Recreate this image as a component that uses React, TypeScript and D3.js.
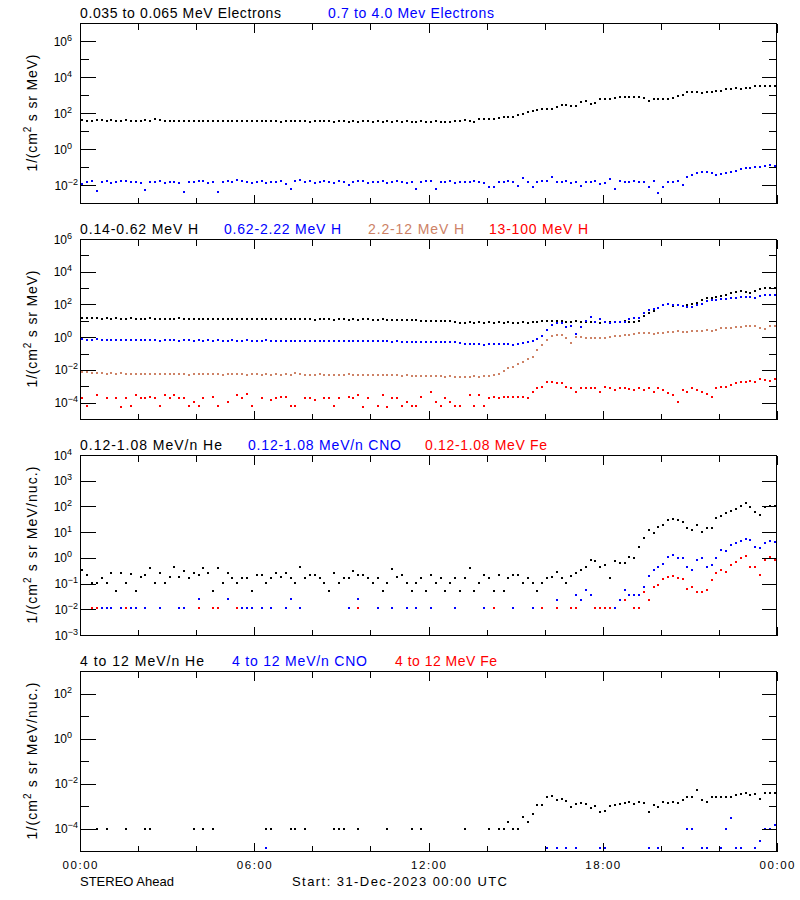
import React from 'react';
import * as d3 from 'd3';

const _ = null;

// ---------- axis / label data ----------
const xTickHours = [0, 2, 4, 6, 8, 10, 12, 14, 16, 18, 20, 22, 24];
const xLabelHours = [0, 6, 12, 18, 24];
const xLabels = ['00:00', '06:00', '12:00', '18:00', '00:00'];
const footLeft = 'STEREO Ahead';
const footMid = 'Start: 31-Dec-2023 00:00 UTC';

const COL_BLACK = '#000000';
const COL_BLUE = '#0000ff';
const COL_BROWN = '#cd8266';
const COL_RED = '#ff0000';

// ---------- series values (log10 of flux), 10-min samples over 24 h ----------
// Panel 1: electrons
const eLow = [
  1.60,1.58,1.57,1.59,1.62,1.58,1.60,1.57,1.56,1.59,1.56,1.58,
  1.57,1.60,1.56,1.66,1.60,1.58,1.57,1.56,1.58,1.55,1.57,1.56,
  1.54,1.57,1.55,1.56,1.58,1.55,1.53,1.56,1.55,1.57,1.54,1.55,
  1.56,1.53,1.55,1.57,1.55,1.52,1.54,1.56,1.53,1.55,1.54,1.52,
  1.55,1.53,1.54,1.56,1.52,1.53,1.55,1.51,1.54,1.52,1.53,1.55,
  1.52,1.54,1.50,1.53,1.52,1.54,1.51,1.53,1.52,1.50,1.53,1.52,
  1.51,1.53,1.52,1.51,1.52,1.53,1.55,1.60,1.55,1.50,1.66,1.67,
  1.66,1.68,1.72,1.78,1.79,1.80,1.90,1.93,2.05,2.10,2.18,2.23,
  2.22,2.20,2.35,2.42,2.42,2.38,2.38,2.62,2.66,2.52,2.54,2.76,
  2.79,2.80,2.86,2.88,2.88,2.89,2.87,2.88,2.82,2.66,2.78,2.80,
  2.80,2.79,2.82,2.95,2.98,3.14,3.16,3.17,3.13,3.18,3.19,3.20,
  3.24,3.34,3.36,3.38,3.35,3.37,3.40,3.48,3.50,3.49,3.50,3.51,
];
const eHigh = [
  -1.95,-1.85,-1.80,-2.35,-1.82,-1.80,-1.88,-1.85,-1.80,-1.78,-1.85,-1.82,
  -1.88,-2.25,-1.85,-1.82,-1.80,-1.90,-1.85,-1.83,-1.88,-2.40,-1.82,-1.85,
  -1.80,-1.78,-1.88,-1.85,-2.40,-1.82,-1.80,-1.85,-1.72,-1.80,-1.85,-1.90,
  -1.82,-1.80,-1.88,-1.85,-1.82,-1.80,-1.92,-2.20,-1.78,-1.72,-1.85,-1.80,
  -1.88,-1.82,-1.75,-1.85,-1.88,-1.80,-1.82,-2.00,-1.85,-1.80,-1.78,-1.88,
  -1.85,-1.82,-1.80,-1.90,-1.85,-1.78,-1.82,-1.88,-1.85,-2.20,-1.82,-1.80,
  -1.78,-2.20,-1.85,-1.82,-1.80,-1.88,-1.85,-1.82,-1.85,-1.80,-1.82,-1.90,
  -2.10,-2.10,-1.85,-1.82,-1.80,-1.85,-2.05,-1.62,-1.85,-2.10,-1.82,-1.80,
  -1.78,-1.55,-1.85,-1.82,-1.80,-1.88,-1.85,-2.05,-1.82,-1.85,-1.80,-1.95,
  -1.88,-1.65,-2.20,-1.80,-1.82,-1.85,-1.80,-1.85,-1.82,-2.10,-1.80,-2.45,
  -2.10,-1.82,-1.85,-1.80,-2.00,-1.58,-1.45,-1.35,-1.30,-1.30,-1.32,-1.45,
  -1.40,-1.35,-1.30,-1.20,-1.10,-1.05,-1.08,-1.02,-1.00,-0.92,-0.90,-0.95,
];

// Panel 2: protons
const h1 = [
  1.20,1.18,1.15,1.17,1.14,1.16,1.13,1.15,1.14,1.12,1.15,1.13,
  1.14,1.12,1.15,1.13,1.11,1.14,1.12,1.13,1.15,1.12,1.11,1.13,
  1.12,1.14,1.10,1.12,1.13,1.11,1.12,1.10,1.13,1.11,1.12,1.10,
  1.11,1.13,1.10,1.12,1.09,1.11,1.10,1.12,1.10,1.09,1.11,1.10,
  1.08,1.10,1.09,1.11,1.08,1.10,1.09,1.07,1.10,1.08,1.09,1.10,
  1.08,1.07,1.09,1.08,1.06,1.08,1.07,1.05,1.04,1.02,1.01,1.00,
  1.00,0.99,1.00,0.98,0.97,0.92,0.88,0.89,0.91,0.88,0.90,0.89,
  0.90,0.89,0.91,0.88,0.90,0.89,0.88,0.90,0.89,0.91,0.92,0.96,
  0.98,0.97,0.99,0.96,0.95,0.94,0.96,0.93,0.92,0.90,0.91,0.89,
  0.90,0.92,0.91,0.95,0.96,0.94,0.95,0.97,1.30,1.45,1.62,1.80,
  1.95,2.00,1.92,1.95,1.90,1.98,2.05,2.10,2.30,2.37,2.40,2.45,
  2.50,2.55,2.70,2.75,2.80,2.78,2.72,2.85,2.95,3.00,2.98,3.00,
];
const h2 = [
  -0.13,-0.15,-0.17,-0.14,-0.18,-0.16,-0.19,-0.17,-0.18,-0.20,-0.17,-0.19,
  -0.18,-0.20,-0.17,-0.19,-0.21,-0.18,-0.20,-0.19,-0.21,-0.18,-0.20,-0.22,
  -0.19,-0.21,-0.20,-0.22,-0.19,-0.21,-0.23,-0.20,-0.22,-0.21,-0.19,-0.22,
  -0.21,-0.23,-0.20,-0.22,-0.24,-0.21,-0.23,-0.22,-0.24,-0.21,-0.23,-0.25,
  -0.22,-0.24,-0.23,-0.25,-0.22,-0.24,-0.26,-0.23,-0.25,-0.24,-0.22,-0.25,
  -0.24,-0.26,-0.23,-0.25,-0.27,-0.24,-0.28,-0.30,-0.29,-0.31,-0.28,-0.30,
  -0.29,-0.31,-0.30,-0.28,-0.32,-0.30,-0.38,-0.42,-0.44,-0.41,-0.43,-0.45,
  -0.42,-0.44,-0.41,-0.43,-0.42,-0.45,-0.41,-0.38,-0.30,-0.24,-0.10,0.07,
  0.44,0.74,0.84,0.84,0.64,0.68,0.20,0.60,1.00,1.25,0.95,1.10,
  0.90,0.88,0.90,0.95,0.95,1.10,1.15,1.15,1.50,1.66,1.75,1.78,
  1.95,2.00,1.98,1.95,1.88,1.85,1.82,1.95,2.00,2.20,2.25,2.30,
  2.32,2.35,2.37,2.40,2.45,2.48,2.47,2.40,2.50,2.55,2.58,2.58,
];
const h3 = [
  -2.10,-2.15,-2.18,-2.20,-2.17,-2.22,-2.20,-2.24,-2.21,-2.25,-2.22,-2.26,
  -2.24,-2.27,-2.23,-2.26,-2.28,-2.25,-2.27,-2.24,-2.28,-2.26,-2.29,-2.27,
  -2.25,-2.28,-2.26,-2.22,-2.27,-2.29,-2.26,-2.28,-2.25,-2.27,-2.29,-2.26,
  -2.28,-2.30,-2.27,-2.29,-2.26,-2.31,-2.28,-2.30,-2.18,-2.27,-2.31,-2.29,
  -2.30,-2.28,-2.32,-2.29,-2.31,-2.30,-2.33,-2.28,-2.31,-2.29,-2.32,-2.30,
  -2.31,-2.33,-2.30,-2.32,-2.29,-2.33,-2.36,-2.34,-2.37,-2.35,-2.36,-2.38,
  -2.36,-2.40,-2.38,-2.42,-2.40,-2.44,-2.42,-2.45,-2.43,-2.40,-2.41,-2.38,
  -2.36,-2.33,-2.27,-2.05,-1.90,-1.80,-1.65,-1.50,-1.35,-1.19,-0.78,-0.50,
  -0.17,0.05,0.13,0.13,-0.03,-0.35,0.00,0.00,-0.05,-0.03,-0.02,-0.04,
  -0.03,-0.01,0.05,0.08,0.11,0.15,0.20,0.24,0.25,0.24,0.22,0.26,
  0.24,0.33,0.32,0.35,0.30,0.33,0.35,0.36,0.40,0.42,0.40,0.45,
  0.54,0.56,0.58,0.60,0.65,0.67,0.68,0.66,0.55,0.50,0.68,0.69,
];
const h4 = [
  -3.74,-4.19,_,-3.54,_,-3.74,_,-3.74,-4.25,-3.74,-4.19,-3.54,
  -3.74,-3.74,-3.64,-3.74,-4.19,-3.54,-3.74,-3.54,-3.74,-3.74,-4.19,-3.94,
  -4.19,-3.70,_,-3.64,-4.19,_,-3.94,_,-3.54,-3.74,-3.48,-4.19,
  _,-3.74,_,-3.84,-3.70,-3.64,-3.64,-4.19,-4.19,_,-3.74,-3.74,
  -3.84,_,-3.70,-3.74,-4.19,-3.74,_,-3.64,-3.74,-3.54,-4.25,-3.70,
  _,-4.19,-3.54,-4.25,-3.74,-3.70,-4.19,-3.94,-4.19,-4.19,-3.64,_,
  -3.33,-3.94,-4.19,-3.74,-3.94,-4.19,-4.19,_,-3.54,-4.19,-3.54,-4.19,
  -3.74,-3.64,-3.74,-3.64,-3.64,-3.64,-3.64,-3.64,-3.70,-3.33,-3.13,-3.02,
  -2.72,-2.72,-2.82,-2.82,-3.02,-3.13,-3.33,-3.13,-3.13,-3.13,-3.13,-3.33,
  -3.02,-3.13,-3.23,-3.13,-3.13,-3.18,-3.23,-3.13,-3.23,-3.13,-3.33,-3.13,
  -3.23,-3.43,-3.54,-3.94,-3.23,-3.33,-3.13,-3.23,-3.33,-3.50,-3.64,-3.13,
  -3.02,-3.02,-2.92,-2.82,-2.72,-2.72,-2.68,-2.72,-2.58,-2.62,-2.68,-2.55,
];

// Panel 3: 0.12-1.08 MeV/n ions
const he1 = [
  -0.47,-0.67,-0.99,-0.99,-0.80,-0.99,-0.60,-1.28,-0.60,-0.99,-0.62,-1.28,
  -0.73,-0.67,-0.40,-0.99,-0.60,-0.99,-0.73,-0.34,-0.73,-0.50,-0.80,-0.60,
  -0.67,-0.38,-0.60,-1.28,-0.40,-0.99,-0.60,-0.80,-0.99,-0.80,-0.80,-1.28,
  -0.67,-0.67,-0.99,-0.80,-0.60,-0.73,-0.60,-0.80,-0.99,-0.36,-0.80,-0.67,
  -0.67,-0.80,-0.99,-1.28,-0.60,-0.99,-0.80,-0.80,-0.50,-0.67,-0.67,-0.80,
  -0.99,-0.80,-1.28,-0.99,-0.45,-0.73,-0.67,-0.99,-1.28,-0.99,-0.80,-1.28,
  -0.67,-0.99,-0.80,-1.28,-0.99,-0.80,-1.28,-0.80,-0.41,-1.28,-0.99,-0.67,
  -0.80,-1.28,-0.67,-1.28,-0.80,-0.67,-0.67,-0.99,-0.80,-0.99,-1.28,-0.99,
  -0.80,-0.73,-0.54,-0.80,-0.99,-0.71,-0.60,-0.47,-0.34,-0.08,-0.14,-0.34,
  -0.28,-0.80,-0.14,-0.21,-0.21,0.05,-0.02,0.42,0.77,1.08,0.95,1.21,
  1.28,1.47,1.50,1.47,1.41,1.15,1.08,1.28,1.02,1.15,1.18,1.54,
  1.63,1.73,1.83,1.89,2.01,2.12,1.99,1.79,1.67,1.96,2.01,2.01,
];
const cno1 = [
  _,_,-1.96,_,-1.96,-1.96,-1.96,_,-1.96,-1.96,-1.96,-1.96,
  _,-1.96,_,_,-1.96,_,_,_,-1.96,-1.96,_,_,
  -1.61,_,_,_,_,_,-1.61,_,_,-1.96,-1.96,-1.96,
  _,-1.96,_,-1.96,_,_,-1.96,-1.61,_,-1.96,_,_,
  _,_,_,_,_,_,_,-1.96,_,-1.61,_,_,
  _,-1.96,_,_,-1.96,_,_,-1.96,_,-1.96,_,_,
  -1.96,_,_,_,_,-1.96,_,_,_,_,_,-1.96,
  _,-1.96,_,_,_,-1.96,_,_,_,-1.96,_,_,
  _,_,-1.64,_,_,-1.96,-1.45,-1.64,-1.25,-1.45,-1.96,-1.96,
  -1.96,_,-1.96,-1.64,-1.25,-1.45,-1.45,-1.45,-1.12,-0.69,-0.47,-0.37,
  -0.25,0.05,0.12,-0.02,-0.02,-0.34,-0.47,-0.08,-0.02,-0.34,-0.28,-0.02,
  0.31,0.25,0.51,0.57,0.64,0.73,0.70,0.44,0.38,0.57,0.64,0.61,
];
const fe1 = [
  _,_,-1.96,-1.96,_,_,_,_,_,-1.96,_,_,
  _,_,_,_,_,_,_,_,_,_,_,_,
  -1.96,_,_,-1.96,-1.96,_,_,_,-1.96,_,_,_,
  _,_,_,_,_,_,_,_,_,_,_,_,
  _,_,_,_,_,_,_,_,_,-1.96,_,_,
  _,_,_,_,_,_,_,_,_,_,_,_,
  _,_,_,_,_,_,_,_,_,_,_,_,
  _,-1.96,_,_,_,_,_,_,_,_,_,-1.96,
  _,_,-1.96,_,_,-1.96,-1.96,_,_,_,-1.96,-1.96,
  -1.96,-1.96,_,_,-1.64,_,-1.96,-1.96,-1.32,-1.64,-1.12,-1.05,
  -0.83,-0.73,-0.69,-0.80,-0.83,-1.22,-1.12,-1.32,-1.32,-1.25,-0.86,-0.60,
  -0.47,-0.54,-0.28,-0.15,-0.02,0.07,-0.34,-0.37,-0.67,-0.08,0.05,-0.08,
];

// Panel 4: 4-12 MeV/n ions
const he2 = [
  _,_,_,-4,_,-4,_,_,_,-4,_,_,
  _,-4,-4,_,_,_,_,_,_,_,_,-4,
  _,-4,_,-4,_,_,_,_,_,_,_,_,
  _,_,-4,-4,_,_,_,-4,-4,_,-4,_,
  _,_,_,_,-4,-4,-4,_,_,-4,_,_,
  _,_,_,-4,_,_,_,_,-4,_,-4,_,
  _,_,_,_,_,_,_,-4,_,_,_,_,
  -4,_,-4,-4,-3.7,-4,-4,-3.5,-3.7,-3.35,-2.95,-2.95,
  -2.58,-2.55,-2.75,-2.7,-2.78,-3.05,-2.9,-2.85,-2.9,-3.1,-3.0,-3.25,
  -3.2,-3.0,-2.95,-2.9,-2.85,-2.8,-2.9,-2.8,-2.85,-3.25,-2.95,-3.05,
  -2.8,-2.85,-2.8,-2.85,-2.75,-2.6,-2.6,-2.3,-2.75,-2.8,-2.6,-2.62,
  -2.6,-2.58,-2.62,-2.5,-2.45,-2.4,-2.5,-2.45,-2.67,-2.42,-2.4,-2.4,
];
const cno2 = [
  _,_,_,_,_,_,_,_,_,_,_,_,
  _,_,_,_,_,_,_,_,_,_,_,_,
  _,_,_,_,_,_,_,_,_,_,_,_,
  _,_,-4.88,_,_,_,_,_,_,_,_,_,
  _,_,_,_,_,_,_,_,_,_,_,_,
  _,_,_,_,_,_,_,_,_,_,_,_,
  _,_,_,_,_,_,_,_,_,_,_,_,
  _,_,_,_,_,_,_,_,_,_,_,_,
  -4.88,_,-4.88,_,-4.88,_,-4.88,_,_,_,_,-4.88,
  -4.88,_,_,_,_,_,_,_,_,-4.88,_,-4.88,
  _,_,_,_,-4.88,-4.0,-4.0,_,-4.88,-4.88,_,_,
  -4.88,-4.0,-3.55,-4.88,-4.88,_,_,-4.88,-4.56,-4.0,-4.0,-3.85,
];
const fe2: (number | null)[] = [];

// ---------- panel definitions ----------
type S = { label: string; color: string; values: (number | null)[] };

const panel1Series: S[] = [
  { label: '0.035 to 0.065 MeV Electrons', color: COL_BLACK, values: eLow },
  { label: '0.7 to 4.0 Mev Electrons', color: COL_BLUE, values: eHigh },
];
const panel2Series: S[] = [
  { label: '0.14-0.62 MeV H', color: COL_BLACK, values: h1 },
  { label: '0.62-2.22 MeV H', color: COL_BLUE, values: h2 },
  { label: '2.2-12 MeV H', color: COL_BROWN, values: h3 },
  { label: '13-100 MeV H', color: COL_RED, values: h4 },
];
const panel3Series: S[] = [
  { label: '0.12-1.08 MeV/n He', color: COL_BLACK, values: he1 },
  { label: '0.12-1.08 MeV/n CNO', color: COL_BLUE, values: cno1 },
  { label: '0.12-1.08 MeV Fe', color: COL_RED, values: fe1 },
];
const panel4Series: S[] = [
  { label: '4 to 12 MeV/n He', color: COL_BLACK, values: he2 },
  { label: '4 to 12 MeV/n CNO', color: COL_BLUE, values: cno2 },
  { label: '4 to 12 MeV Fe', color: COL_RED, values: fe2 },
];

const panels = [
  { series: panel1Series, exp: [-3, 7], major: [6, 4, 2, 0, -2], minor: [5, 3, 1, -1], unit: ' s sr MeV)', titleX: [80, 328], titleW: [201, 166], yTitleLen: 117 },
  { series: panel2Series, exp: [-5, 6], major: [6, 4, 2, 0, -2, -4], minor: [5, 3, 1, -1, -3], unit: ' s sr MeV)', titleX: [80, 224, 368, 489], titleW: [118, 117, 96, 99], yTitleLen: 117 },
  { series: panel3Series, exp: [-3, 4], major: [4, 3, 2, 1, 0, -1, -2, -3], minor: [], unit: ' s sr MeV/nuc.)', titleX: [80, 248, 425], titleW: [142, 153, 122], yTitleLen: 157 },
  { series: panel4Series, exp: [-5, 3], major: [2, 0, -2, -4], minor: [1, -1, -3], unit: ' s sr MeV/nuc.)', titleX: [80, 232, 395], titleW: [124, 135, 102], yTitleLen: 157 },
];

const X0 = 80;
const X1 = 777;
const TOPS = [23, 239, 455, 671];
const PH = 180;
const FONT = 'Liberation Sans, Arial, Helvetica, sans-serif';

function sampleHour(i: number, n: number) {
  return ((i + 0.5) * 24) / n;
}

function Panel({ p, top }: { p: (typeof panels)[number]; top: number }) {
  const bottom = top + PH;
  const x = d3.scaleLinear().domain([0, 24]).range([X0, X1]);
  const y = d3.scaleLog().domain([Math.pow(10, p.exp[0]), Math.pow(10, p.exp[1])]).range([bottom, top]);
  const L = X0 + 0.5;
  const R = X1 - 0.5;
  const T = top + 0.5;
  const B = bottom + 0.5;
  const mid = (top + bottom) / 2;
  return (
    <g>
      {p.series.map((s, k) => (
        <text key={'t' + k} x={p.titleX[k]} y={top - 5} fill={s.color} fontSize={14}
          textLength={p.titleW[k]} lengthAdjust="spacing">{s.label}</text>
      ))}
      {p.series.map((s, k) => (
        <g key={'s' + k} fill={s.color} shapeRendering="crispEdges">
          {s.values.map((v, i) =>
            v === null ? null : (
              <rect key={i} x={Math.round(x(sampleHour(i, s.values.length))) - 1}
                y={Math.round(y(Math.pow(10, v))) - 1} width={2} height={2} />
            )
          )}
        </g>
      ))}
      <g stroke="#000" strokeWidth={1} fill="none" shapeRendering="crispEdges">
        <rect x={L} y={T} width={R - L} height={B - T} />
        {p.major.map((e) => {
          const yy = Math.round(y(Math.pow(10, e))) + 0.5;
          return (
            <g key={'M' + e}>
              <line x1={L} x2={L + 15} y1={yy} y2={yy} />
              <line x1={R} x2={R - 15} y1={yy} y2={yy} />
            </g>
          );
        })}
        {p.minor.map((e) => {
          const yy = Math.round(y(Math.pow(10, e))) + 0.5;
          return (
            <g key={'m' + e}>
              <line x1={L} x2={L + 8} y1={yy} y2={yy} />
              <line x1={R} x2={R - 8} y1={yy} y2={yy} />
            </g>
          );
        })}
        {xTickHours.map((h) => {
          const xx = Math.round(x(h)) + 0.5;
          const len = h % 6 === 0 ? 9 : 6;
          return (
            <g key={'x' + h}>
              <line x1={xx} x2={xx} y1={T} y2={T + len} />
              <line x1={xx} x2={xx} y1={B} y2={B - len} />
            </g>
          );
        })}
      </g>
      {p.major.map((e) => {
        const yy = y(Math.pow(10, e));
        return (
          <text key={'l' + e} x={e < 0 ? 78 : 72} y={yy + 4.5} textAnchor="end" fontSize={12} fill="#000">
            10<tspan dy={-5} fontSize={9}>{e < 0 ? '\u2212' + -e : String(e)}</tspan>
          </text>
        );
      })}
      <text transform={`translate(37,${mid}) rotate(-90)`} textAnchor="middle" fontSize={14} fill="#000"
        textLength={p.yTitleLen} lengthAdjust="spacing">
        1/(cm<tspan dy={-6} fontSize={10}>2</tspan><tspan dy={6}>{p.unit}</tspan>
      </text>
    </g>
  );
}

export default function App() {
  const x = d3.scaleLinear().domain([0, 24]).range([X0, X1]);
  const lastBottom = TOPS[3] + PH;
  return (
    <svg width={800} height={900} style={{ position: 'absolute', left: 0, top: 0, background: '#fff' }} fontFamily={FONT}>
      <rect x={0} y={0} width={800} height={900} fill="#fff" />
      {panels.map((p, k) => (
        <Panel key={k} p={p} top={TOPS[k]} />
      ))}
      {xLabelHours.map((h, k) => (
        <text key={'xl' + k} x={x(h)} y={lastBottom + 18} textAnchor="middle" fontSize={11.5}
          textLength={35} lengthAdjust="spacing" fill="#000">{xLabels[k]}</text>
      ))}
      <text x={80} y={lastBottom + 35} fontSize={13} fill="#000">{footLeft}</text>
      <text x={292} y={lastBottom + 35} fontSize={13} textLength={215} lengthAdjust="spacing" fill="#000">{footMid}</text>
    </svg>
  );
}
